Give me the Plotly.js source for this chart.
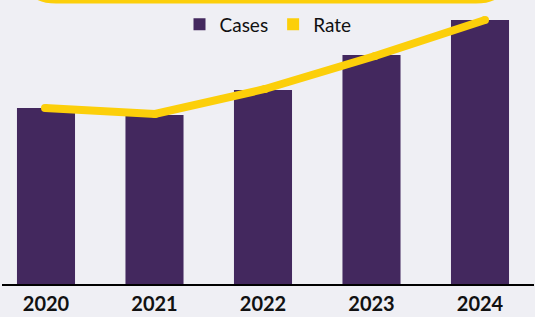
<!DOCTYPE html>
<html>
<head>
<meta charset="utf-8">
<script src="https://cdn.plot.ly/plotly-3.0.1.min.js"></script>
<style>html,body{margin:0;padding:0;background:#efeff4;}#chart{width:535px;height:317px;}</style>
</head>
<body>
<div id="chart"></div>
<script>
const years = ['2020', '2021', '2022', '2023', '2024'];
const cases = [176, 169, 194, 229, 264];
const rate = [176, 170, 195, 228, 264];

const purple = '#43285e';
const yellow = '#fccf0a';
const W = 535, H = 317;
const m = {l: 2, r: 1, t: 0, b: 33};
const pw = W - m.l - m.r, ph = H - m.t - m.b;
const px = v => ((v - m.l) / pw).toFixed(4);
const py = v => ((ph + m.t - v) / ph).toFixed(4);

const topPath = 'M ' + px(24) + ',' + py(-30) +
  ' Q ' + px(24) + ',' + py(1.5) + ' ' + px(56) + ',' + py(1.5) +
  ' L ' + px(476) + ',' + py(1.5) +
  ' Q ' + px(508) + ',' + py(1.5) + ' ' + px(508) + ',' + py(-30);

const traces = [
  {type: 'bar', x: years, y: cases, name: 'Cases', marker: {color: purple}, width: 0.535, xaxis: 'x', yaxis: 'y', hoverinfo: 'skip'},
  {type: 'bar', x: [null], y: [null], name: 'Rate', marker: {color: yellow}, xaxis: 'x2', yaxis: 'y', hoverinfo: 'skip'},
  {type: 'scatter', mode: 'lines+markers', x: years, y: rate, name: 'Rate', showlegend: false,
   line: {color: yellow, width: 8}, marker: {color: yellow, size: 8}, xaxis: 'x2', yaxis: 'y', hoverinfo: 'skip'}
];

const layout = {
  width: W, height: H, margin: m,
  paper_bgcolor: '#efeff4', plot_bgcolor: '#efeff4',
  barmode: 'overlay',
  showlegend: true,
  legend: {orientation: 'h', x: px(268), xanchor: 'center', y: py(24.5), yanchor: 'middle',
           font: {family: 'Lato', size: 19, color: '#111'}, bgcolor: 'rgba(0,0,0,0)', traceorder: 'normal'},
  xaxis: {type: 'category', range: [-0.4055, 4.4977], showline: true, linecolor: '#000', linewidth: 2,
          ticks: '', showgrid: false, zeroline: false, fixedrange: true, ticklabelstandoff: 1,
          tickfont: {family: 'Lato', size: 20, weight: 700, color: '#111'}},
  xaxis2: {type: 'category', overlaying: 'x', range: [-0.3909, 4.4455], visible: false, fixedrange: true},
  yaxis: {range: [0, 284], visible: false, showgrid: false, zeroline: false, fixedrange: true},
  shapes: [
    {type: 'path', xref: 'paper', yref: 'paper', path: topPath, line: {color: yellow, width: 4}, fillcolor: 'rgba(0,0,0,0)', layer: 'above'}
  ]
};

Plotly.newPlot('chart', traces, layout, {displayModeBar: false, staticPlot: true});
</script>
</body>
</html>
